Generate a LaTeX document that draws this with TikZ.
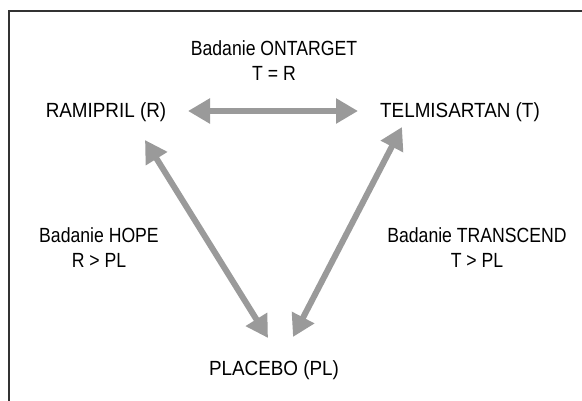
\documentclass[tikz,border=0pt]{standalone}
\usepackage{fontspec}
\setmainfont{Liberation Sans}[FakeStretch=0.86]
\newfontfamily\capsfont{Liberation Sans}[FakeStretch=0.92]
\usetikzlibrary{arrows.meta}
\definecolor{arrowgray}{HTML}{9A9A9A}
\definecolor{framegray}{HTML}{333333}
\begin{document}
\begin{tikzpicture}[x=1pt,y=-1pt,
  lbl/.style={inner sep=0pt, align=center, font=\fontsize{20.5}{25}\selectfont},
  capslbl/.style={lbl, font=\capsfont\fontsize{20.5}{25}\selectfont},
  bigarrow/.style={draw=arrowgray, line width=6pt,
    {Triangle[length=22pt,width=24pt]}-{Triangle[length=22pt,width=24pt]}, arrowgray}]
\useasboundingbox (0,0) rectangle (582,400);
\draw[framegray, line width=1.2pt] (9,11) rectangle (600,420);
\node[capslbl] (R) at (106,112) {RAMIPRIL (R)};
\node[capslbl] (T) at (460,112) {TELMISARTAN (T)};
\node[capslbl] (PL) at (274,370) {PLACEBO (PL)};
\node[lbl, anchor=base] (ont) at (274,80) {Badanie ONTARGET\\T = R};
\node[lbl, anchor=base] (hope) at (99,267) {Badanie HOPE\\R > PL};
\node[lbl, anchor=base] (trans) at (477,267) {Badanie TRANSCEND\\T > PL};
\coordinate (aR) at (188,111);
\coordinate (aT) at (358,111);
\coordinate (bR) at (145,140);
\coordinate (bP) at (268,338);
\coordinate (cT) at (402,127);
\coordinate (cP) at (293,337);
\draw[bigarrow] (aR) -- (aT);
\draw[bigarrow] (bR) -- (bP);
\draw[bigarrow] (cT) -- (cP);
\end{tikzpicture}
\end{document}
